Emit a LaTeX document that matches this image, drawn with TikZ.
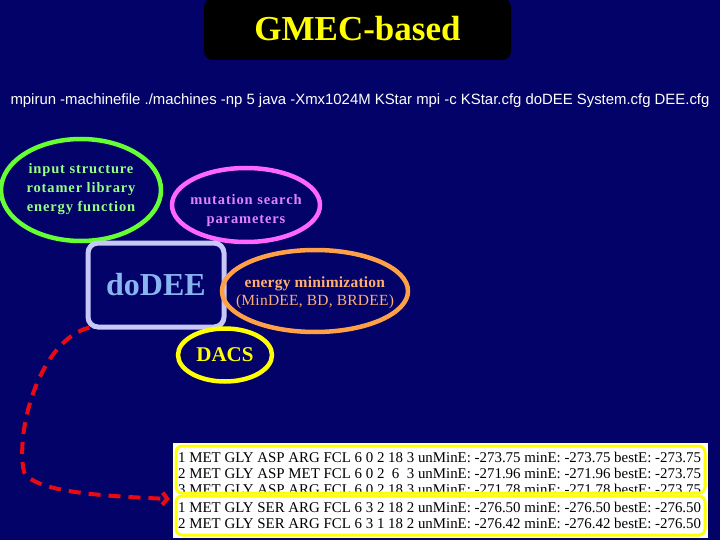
\documentclass[tikz,border=0pt]{standalone}
\usepackage{fontspec}
\setmainfont{Liberation Serif}
\setsansfont{Liberation Sans}
\usetikzlibrary{shapes.geometric,arrows.meta,positioning}
\definecolor{navy}{RGB}{2,2,104}
\definecolor{lgreen}{RGB}{102,255,51}
\definecolor{tgreen}{RGB}{150,255,130}
\definecolor{lmag}{RGB}{255,102,255}
\definecolor{tmag}{RGB}{224,130,255}
\definecolor{lorange}{RGB}{255,160,70}
\definecolor{torange}{RGB}{255,175,110}
\definecolor{lbox}{RGB}{200,200,248}
\definecolor{tbox}{RGB}{136,180,240}
\definecolor{gold}{RGB}{255,255,0}
\definecolor{arrowred}{RGB}{235,10,20}
\newfontfamily\spacedserif[LetterSpace=6]{Liberation Serif}
\newfontfamily\looseserif[LetterSpace=1.5]{Liberation Serif}
% text that does not widen its ellipse
\newcommand\bubtext[2][-5pt]{\raisebox{#1}[0pt][0pt]{\makebox[0pt]{\begin{tabular}{@{}c@{}}#2\end{tabular}}}}
\begin{document}
\begin{tikzpicture}[x=1pt, y=-1pt,
    bubble/.style={ellipse, draw, line width=4.5pt, inner sep=0pt},
    rowtext/.style={anchor=base west, inner sep=0pt, font=\fontsize{14.9}{16}\selectfont}]
	\fill[navy] (0,0) rectangle (720,540);
	\useasboundingbox (0,0) rectangle (720,540);
	\node[fill=black, rounded corners=9pt, minimum width=307pt, minimum height=62pt, text=gold,
	      font=\bfseries\fontsize{35}{35}\selectfont] (title) at (357.5,29) {GMEC-based};
	\node[text=white, font=\sffamily\fontsize{14.9}{15}\selectfont] (cmd) at (360,101)
	      {mpirun -machinefile ./machines -np 5 java -Xmx1024M KStar mpi -c KStar.cfg doDEE System.cfg DEE.cfg};
	\node[bubble, lgreen, text=tgreen, minimum width=160pt, minimum height=102pt,
	      font=\spacedserif\bfseries\fontsize{14.5}{19}\selectfont] (inputs) at (81,190)
	      {\bubtext[-2pt]{input structure\\rotamer library\\energy function}};
	\node[bubble, lmag, text=tmag, minimum width=148pt, minimum height=74pt,
	      font=\spacedserif\bfseries\fontsize{14.5}{19}\selectfont] (mutation) at (246,205)
	      {\bubtext[-9pt]{mutation search\\parameters}};
	\node[draw=lbox, line width=5pt, rounded corners=10pt, minimum width=136pt, minimum height=84pt,
	      text=tbox, font=\bfseries\fontsize{32}{32}\selectfont] (dodee) at (156,285) {doDEE};
	\node[bubble, lorange, text=torange, minimum width=186pt, minimum height=82pt,
	      font=\looseserif\fontsize{15.5}{18}\selectfont] (emin) at (315,291)
	      {\bubtext{\textbf{energy minimization}\\(MinDEE, BD, BRDEE)}};
	\node[bubble, gold, text=gold, minimum width=94pt, minimum height=53pt,
	      font=\bfseries\fontsize{21}{21}\selectfont] (dacs) at (225,355) {DACS};
	\node[fill=white, anchor=north west, minimum width=535pt, minimum height=95pt, inner sep=0pt] (panel) at (173,443) {};
	\begin{scope}
		\clip (176,446) rectangle (705,493);
		\node[rowtext] (rowa1) at (178,462) {1 MET GLY ASP ARG FCL 6 0 2 18 3 unMinE: -273.75 minE: -273.75 bestE: -273.75};
		\node[rowtext] (rowa2) at (178,478) {2 MET GLY ASP MET FCL 6 0 2~~6~~3 unMinE: -271.96 minE: -271.96 bestE: -273.75};
		\node[rowtext] (rowa3) at (178,494) {3 MET GLY ASP ARG FCL 6 0 2 18 3 unMinE: -271.78 minE: -271.78 bestE: -273.75};
	\end{scope}
	\draw[gold, line width=3pt, rounded corners=6pt] (176,446) rectangle (705,493);
	\node[rowtext] (rowb1) at (178,512) {1 MET GLY SER ARG FCL 6 3 2 18 2 unMinE: -276.50 minE: -276.50 bestE: -276.50};
	\node[rowtext] (rowb2) at (178,528) {2 MET GLY SER ARG FCL 6 3 1 18 2 unMinE: -276.42 minE: -276.42 bestE: -276.50};
	\draw[gold, line width=3pt, rounded corners=6pt] (176,496) rectangle (705,535);
	\coordinate (target) at (170,499);
	\draw[arrowred, line width=4pt, dash pattern=on 12pt off 8pt, -{Straight Barb[length=5pt,width=12pt]}]
	      ([xshift=4pt,yshift=2pt]dodee.south west) .. controls (40,340) and (15,430) .. (24,472)
	      .. controls (35,492) and (100,496) .. (target);
\end{tikzpicture}
\end{document}
